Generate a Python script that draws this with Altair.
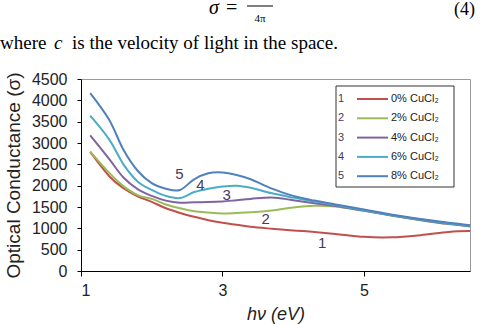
import altair as alt
import pandas as pd

# Photon energy grid (eV)
energy = [1.13, 1.4, 1.6, 1.8, 2.0, 2.2, 2.4, 2.6, 2.8, 3.0, 3.2, 3.4,
          3.7, 4.0, 4.3, 4.6, 5.0, 5.4, 5.8, 6.2, 6.5]

# Optical conductance for each CuCl2 content
sigma_0 = [2790, 2220, 1940, 1750, 1620, 1470, 1360, 1270, 1190, 1130, 1085,
           1035, 990, 950, 915, 870, 800, 790, 840, 915, 935]
sigma_2 = [2800, 2300, 1990, 1780, 1690, 1560, 1470, 1400, 1370, 1350, 1360,
           1375, 1420, 1490, 1530, 1510, 1410, 1295, 1192, 1100, 1045]
sigma_4 = [3180, 2620, 2190, 1920, 1760, 1650, 1600, 1610, 1615, 1630, 1660,
           1690, 1725, 1660, 1590, 1525, 1415, 1300, 1197, 1105, 1050]
sigma_6 = [3640, 3080, 2500, 2100, 1900, 1760, 1710, 1850, 1930, 1980, 2000,
           1950, 1820, 1720, 1630, 1545, 1425, 1308, 1205, 1115, 1060]
sigma_8 = [4170, 3540, 2840, 2350, 2060, 1930, 1900, 2150, 2290, 2310, 2250,
           2150, 1930, 1760, 1650, 1560, 1440, 1320, 1220, 1130, 1075]

series_names = ["0% CuCl₂", "2% CuCl₂", "4% CuCl₂", "6% CuCl₂", "8% CuCl₂"]
series_tags = ["1", "2", "3", "4", "5"]
series_colors = ["#C0504D", "#9BBB59", "#8064A2", "#4BACC6", "#4F81BD"]

# Where the curve numbers sit
tag_energy = [4.41, 3.61, 3.06, 2.69, 2.39]
tag_sigma = [645, 1228, 1772, 2005, 2278]

x_ticks = [1, 3, 5]
y_ticks = [0, 500, 1000, 1500, 2000, 2500, 3000, 3500, 4000, 4500]

all_sigma = [sigma_0, sigma_2, sigma_4, sigma_6, sigma_8]
rows = []
for name, vals in zip(series_names, all_sigma):
    for e, s in zip(energy, vals):
        rows.append({"series": name, "E": e, "sigma": s})
curves = pd.DataFrame(rows)
tags = pd.DataFrame({"tag": series_tags, "E": tag_energy, "sigma": tag_sigma})

PLOT_W, PLOT_H = 389, 192
AXIS_FONT = "Liberation Sans"
TEXT_COLOR = "#4a3a5a"

x_scale = alt.Scale(domain=[1, 6.5], nice=False, zero=False)
y_scale = alt.Scale(domain=[0, 4500], nice=False)
x_axis = alt.Axis(values=x_ticks, title="hν (eV)", titleFontStyle="italic",
                  titleFontSize=18, grid=False, tickSize=5, labelPadding=6,
                  titlePadding=7, format="d")
y_axis = alt.Axis(values=y_ticks, title="Optical Conductance (σ)",
                  titleFontSize=19, grid=False, tickSize=4, labelPadding=10,
                  titlePadding=8, format="d", labelOverlap=False)

lines = alt.Chart(curves).mark_line(strokeWidth=2, interpolate="cardinal").encode(
    x=alt.X("E:Q", scale=x_scale, axis=x_axis),
    y=alt.Y("sigma:Q", scale=y_scale, axis=y_axis),
    color=alt.Color("series:N", scale=alt.Scale(domain=series_names, range=series_colors),
                    legend=None),
    order=alt.Order("E:Q"),
)

tag_text = alt.Chart(tags).mark_text(fontSize=15, font=AXIS_FONT, color=TEXT_COLOR,
                                     baseline="middle", align="center").encode(
    x=alt.X("E:Q", scale=x_scale, axis=x_axis),
    y=alt.Y("sigma:Q", scale=y_scale, axis=y_axis),
    text="tag:N")

one = alt.Data(values=[{}])

# Legend box with numbered entries
legend_layers = [
    alt.Chart(one).mark_rect(fill="white", stroke="#333333", strokeWidth=1).encode(
        x=alt.value(255), x2=alt.value(373), y=alt.value(7), y2=alt.value(108))
]
for i, (tag, name, col) in enumerate(zip(series_tags, series_names, series_colors)):
    yy = 20 + i * 19.3
    legend_layers.append(alt.Chart(one).mark_text(
        text=tag, fontSize=11, font=AXIS_FONT, color=TEXT_COLOR, align="left",
        baseline="middle").encode(x=alt.value(257), y=alt.value(yy)))
    legend_layers.append(alt.Chart(one).mark_rule(color=col, strokeWidth=2).encode(
        x=alt.value(276), x2=alt.value(307), y=alt.value(yy)))
    legend_layers.append(alt.Chart(one).mark_text(
        text=name, fontSize=11, font=AXIS_FONT, color="#222222", align="left",
        baseline="middle").encode(x=alt.value(310), y=alt.value(yy)))

# Running text above the figure
SERIF = "Liberation Serif"
page_layers = [
    alt.Chart(one).mark_text(text="σ", font=SERIF, fontSize=20, fontStyle="italic",
                             align="left", baseline="alphabetic", color="black").encode(
        x=alt.value(128), y=alt.value(-65)),
    alt.Chart(one).mark_text(text="=", font=SERIF, fontSize=20, align="left",
                             baseline="alphabetic", color="black").encode(
        x=alt.value(145), y=alt.value(-65)),
    alt.Chart(one).mark_rule(color="black", strokeWidth=1).encode(
        x=alt.value(166), x2=alt.value(192), y=alt.value(-73)),
    alt.Chart(one).mark_text(text="4π", font=SERIF, fontSize=11, align="center",
                             baseline="alphabetic", color="black").encode(
        x=alt.value(179), y=alt.value(-57)),
    alt.Chart(one).mark_text(text="(4)", font=SERIF, fontSize=18, align="left",
                             baseline="alphabetic", color="black").encode(
        x=alt.value(373), y=alt.value(-64)),
    alt.Chart(one).mark_text(text="where", font=SERIF, fontSize=19, align="left",
                             baseline="alphabetic", color="black").encode(
        x=alt.value(-81), y=alt.value(-30)),
    alt.Chart(one).mark_text(text="c", font=SERIF, fontSize=19, fontStyle="italic",
                             align="left", baseline="alphabetic", color="black").encode(
        x=alt.value(-27), y=alt.value(-30)),
    alt.Chart(one).mark_text(text="is the velocity of light in the space.", font=SERIF,
                             fontSize=19, align="left", baseline="alphabetic",
                             color="black").encode(
        x=alt.value(-9), y=alt.value(-30)),
]

chart = alt.layer(lines, tag_text, *legend_layers, *page_layers).properties(
    width=PLOT_W, height=PLOT_H,
    autosize=alt.AutoSizeParams(type="none"),
    padding={"left": 81, "top": 79, "right": 11, "bottom": 53},
    background="white",
).configure_view(
    stroke="#9a9a9a", strokeWidth=1
).configure_axis(
    domainColor="black", tickColor="black", labelColor="#222222", titleColor="#222222",
    labelFont=AXIS_FONT, titleFont=AXIS_FONT, labelFontSize=16,
    titleFontWeight="normal", domainWidth=1,
)

chart.save("out.html", embed_options={"renderer": "svg", "actions": False})
